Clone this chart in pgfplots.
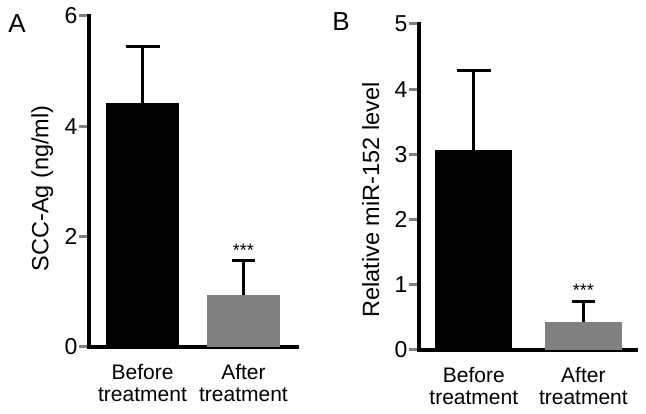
\documentclass[border=0pt]{standalone}
\usepackage{pgfplots}
\pgfplotsset{compat=1.18}
\usepackage{fontspec}
\setmainfont{Liberation Sans}
\definecolor{bargray}{RGB}{128,128,128}
\pgfplotsset{
  panel/.style={
    scale only axis,
    axis lines=left,
    axis line style={-, line width=4pt, line cap=rect},
    ybar,
    bar width=0.72,
    bar shift=0pt,
    xmin=0.47, xmax=2.53,
    ymin=0,
    xtick={1,2},
    xticklabels={{Before\\treatment},{After\\treatment}},
    xticklabel style={align=center, font=\fontsize{21}{22}\selectfont, yshift=-4pt},
    xtick style={draw=none},
    tick align=outside,
    major tick length=10pt,
    ytick style={line width=3pt},
    yticklabel style={font=\fontsize{23}{23}\selectfont, xshift=2pt},
    ylabel style={font=\fontsize{23.5}{23.5}\selectfont, anchor=center},
    /pgf/number format/assume math mode=true,
    clip=false,
    error bars/y dir=plus,
    error bars/y explicit,
    error bars/error bar style={line width=3pt},
    error bars/error mark options={line width=3pt, rotate=90, mark size=17pt},
  }
}
\begin{document}
\begin{tikzpicture}
\useasboundingbox (0pt,0pt) rectangle (646pt,414pt);
% Panel A
\begin{axis}[panel,
  at={(89pt,67pt)}, anchor=south west,
  width=208pt, height=331pt,
  ymax=6, ytick={0,2,4,6},
  ylabel={SCC-Ag (ng/ml)},
  ylabel style={at={(axis description cs:-0.224,0.479)}},
]
\addplot[fill=black, draw=none, error bars/error bar style={black}] coordinates {(1,4.42) +- (0,1.02)};
\addplot[fill=bargray, draw=none, error bars/error bar style={black}, error bars/error mark options={line width=3pt, rotate=90, mark size=11.5pt, black}] coordinates {(2,0.94) +- (0,0.62)};
\node[font=\fontsize{18}{18}\selectfont, anchor=south, inner sep=0pt] at (axis cs:2,1.63) {***};
\end{axis}
\node[font=\fontsize{26}{26}\selectfont] at (17pt,390pt) {A};
% Panel B
\begin{axis}[panel,
  at={(419pt,64pt)}, anchor=south west,
  width=217pt, height=326pt,
  xmin=0.5, xmax=2.48, bar width=0.70,
  ymax=5, ytick={0,1,2,3,4,5},
  ylabel={Relative miR-152 level},
  ylabel style={at={(axis description cs:-0.223,0.46)}},
]
\addplot[fill=black, draw=none, error bars/error bar style={black}] coordinates {(1,3.07) +- (0,1.21)};
\addplot[fill=bargray, draw=none, error bars/error bar style={black}, error bars/error mark options={line width=3pt, rotate=90, mark size=11.5pt, black}] coordinates {(2,0.43) +- (0,0.32)};
\node[font=\fontsize{18}{18}\selectfont, anchor=south, inner sep=0pt] at (axis cs:2,0.81) {***};
\end{axis}
\node[font=\fontsize{26}{26}\selectfont] at (341pt,392pt) {B};
\end{tikzpicture}
\end{document}
